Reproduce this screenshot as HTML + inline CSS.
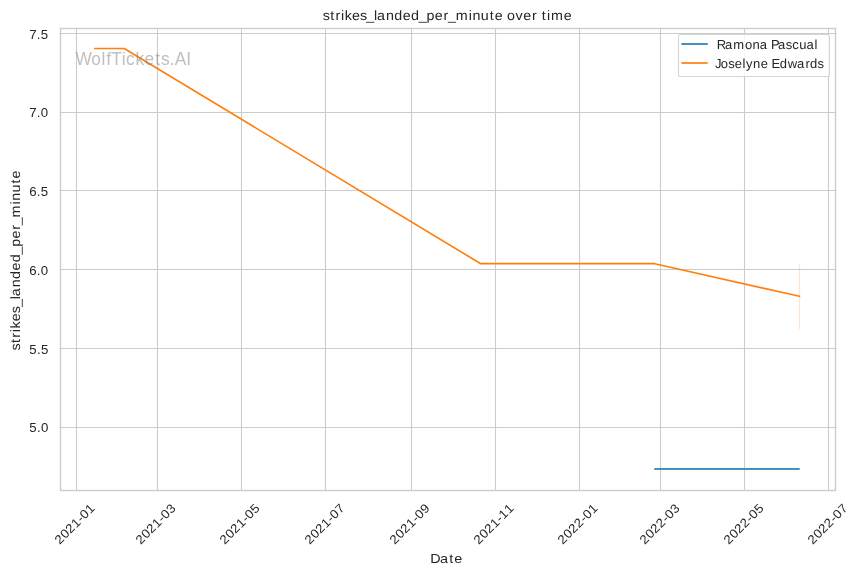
<!DOCTYPE html><html><head><meta charset="utf-8"><title>strikes_landed_per_minute over time</title><style>html,body{margin:0;padding:0;background:#fff;overflow:hidden}svg{display:block;will-change:transform}</style></head><body><svg width="861" height="575" viewBox="0 0 861 575" font-family="'Liberation Sans', sans-serif" fill="#262626"><rect width="861" height="575" fill="#ffffff"/><g stroke="#cccccc" stroke-width="1.1"><line x1="60" y1="33.5" x2="836" y2="33.5"/><line x1="60" y1="112.5" x2="836" y2="112.5"/><line x1="60" y1="190.5" x2="836" y2="190.5"/><line x1="60" y1="269.5" x2="836" y2="269.5"/><line x1="60" y1="348.5" x2="836" y2="348.5"/><line x1="60" y1="427.5" x2="836" y2="427.5"/><line x1="76.5" y1="28" x2="76.5" y2="491"/><line x1="157.5" y1="28" x2="157.5" y2="491"/><line x1="241.5" y1="28" x2="241.5" y2="491"/><line x1="325.5" y1="28" x2="325.5" y2="491"/><line x1="411.5" y1="28" x2="411.5" y2="491"/><line x1="495.5" y1="28" x2="495.5" y2="491"/><line x1="579.5" y1="28" x2="579.5" y2="491"/><line x1="660.5" y1="28" x2="660.5" y2="491"/><line x1="744.5" y1="28" x2="744.5" y2="491"/><line x1="828.5" y1="28" x2="828.5" y2="491"/></g><polyline points="94.7,48.5 124.2,48.5 480.7,263.7 654.74,263.7 799.5,296.3" fill="none" stroke="#ff7f0e" stroke-width="1.67" stroke-linecap="round" stroke-linejoin="round"/><rect x="798.9" y="264.4" width="1.2" height="64.7" fill="#ff7f0e" fill-opacity="0.2"/><line x1="655" y1="469" x2="799" y2="469" stroke="#4490c1" stroke-width="2" stroke-linecap="round"/><rect x="60.5" y="28.5" width="775" height="462" fill="none" stroke="#cccccc" stroke-width="1.39"/><text transform="translate(75.38 65) scale(0.9900 1)" x="0.06 15.94 26.28 31.30 36.29 46.74 51.06 60.86 69.79 80.62 86.49 95.44 100.42 112.05" y="0" font-size="17.5" fill="#808080" fill-opacity="0.5">WolfTickets.AI</text><rect x="678.5" y="34.5" width="151" height="42" rx="2" ry="2" fill="#ffffff" fill-opacity="0.8" stroke="#cccccc" stroke-opacity="0.8" stroke-width="1.1"/><line x1="682.1" y1="44" x2="707" y2="44" stroke="#4490c1" stroke-width="2" stroke-linecap="round"/><line x1="682.1" y1="63" x2="707" y2="63" stroke="#ff9436" stroke-width="2" stroke-linecap="round"/><text transform="translate(717.05 49) scale(1.0000 1)" x="-0.26 7.92 16.32 27.88 35.53 42.67 50.64 53.93 60.92 68.77 75.21 82.23 89.42 97.50" y="0" font-size="13.0" text-rendering="geometricPrecision">Ramona Pascual</text><text transform="translate(717.05 68) scale(1.0000 1)" x="-1.98 3.75 11.15 17.79 25.38 28.86 36.03 43.67 51.14 54.36 62.82 70.67 80.04 88.45 92.94 100.52" y="0" font-size="13.0" text-rendering="geometricPrecision">Joselyne Edwards</text><text transform="translate(322.77 20) scale(1.0600 1)" x="-0.01 7.04 12.13 17.12 20.76 27.50 35.13 41.04 48.24 51.15 59.58 67.50 75.49 83.30 90.57 97.84 105.68 113.90 118.05 125.54 137.64 141.18 149.14 157.51 162.17 169.94 173.92 181.95 189.17 197.39 202.25 206.69 211.46 215.28 227.26" y="0" font-size="13.5" text-rendering="geometricPrecision">strikes_landed_per_minute over time</text><text transform="translate(20 350.48) rotate(-90) scale(1.0600 1)" x="-0.01 7.04 12.13 17.12 20.76 27.50 35.13 41.04 48.24 51.15 59.58 67.50 75.49 83.30 90.57 97.84 105.68 113.90 118.05 125.54 137.64 141.18 149.14 157.51 162.17" y="0" font-size="13.5" text-rendering="geometricPrecision">strikes_landed_per_minute</text><text transform="translate(430.21 563) scale(1.0600 1)" x="-0.05 9.26 17.99 22.64" y="0" font-size="13.6">Date</text><text transform="translate(29.02 39) scale(1.0500 1)" x="0.17 7.47 11.22" y="0" font-size="12.6">7.5</text><text transform="translate(29.02 117) scale(1.0500 1)" x="0.17 7.47 11.27" y="0" font-size="12.6">7.0</text><text transform="translate(29.02 196) scale(1.0500 1)" x="0.20 7.47 11.22" y="0" font-size="12.6">6.5</text><text transform="translate(29.02 275) scale(1.0500 1)" x="0.20 7.47 11.27" y="0" font-size="12.6">6.0</text><text transform="translate(29.02 354) scale(1.0500 1)" x="0.15 7.59 11.34" y="0" font-size="12.6">5.5</text><text transform="translate(29.02 432) scale(1.0500 1)" x="0.15 7.59 11.39" y="0" font-size="12.6">5.0</text><text transform="translate(59.61 544.94) rotate(-45) scale(1.0500 1)" x="0.04 7.58 14.80 22.27 29.53 34.01 41.32" y="0" font-size="12.6">2021-01</text><text transform="translate(140.61 544.94) rotate(-45) scale(1.0500 1)" x="0.04 7.58 14.80 22.27 29.53 34.01 41.40" y="0" font-size="12.6">2021-03</text><text transform="translate(224.61 544.94) rotate(-45) scale(1.0500 1)" x="0.04 7.58 14.80 22.27 29.53 34.01 41.34" y="0" font-size="12.6">2021-05</text><text transform="translate(309.61 544.94) rotate(-45) scale(1.0500 1)" x="0.04 7.58 14.80 22.27 29.53 34.01 41.36" y="0" font-size="12.6">2021-07</text><text transform="translate(394.61 544.94) rotate(-45) scale(1.0500 1)" x="0.04 7.58 14.80 22.27 29.53 34.01 41.35" y="0" font-size="12.6">2021-09</text><text transform="translate(478.61 544.94) rotate(-45) scale(1.0500 1)" x="0.04 7.58 14.80 22.27 29.53 33.94 41.32" y="0" font-size="12.6">2021-11</text><text transform="translate(562.61 544.94) rotate(-45) scale(1.0500 1)" x="0.04 7.58 14.80 22.19 29.53 34.01 41.32" y="0" font-size="12.6">2022-01</text><text transform="translate(644.61 544.94) rotate(-45) scale(1.0500 1)" x="0.04 7.58 14.80 22.19 29.53 34.01 41.40" y="0" font-size="12.6">2022-03</text><text transform="translate(728.61 544.94) rotate(-45) scale(1.0500 1)" x="0.04 7.58 14.80 22.19 29.53 34.01 41.34" y="0" font-size="12.6">2022-05</text><text transform="translate(812.61 544.94) rotate(-45) scale(1.0500 1)" x="0.04 7.58 14.80 22.19 29.53 34.01 41.36" y="0" font-size="12.6">2022-07</text></svg></body></html>
